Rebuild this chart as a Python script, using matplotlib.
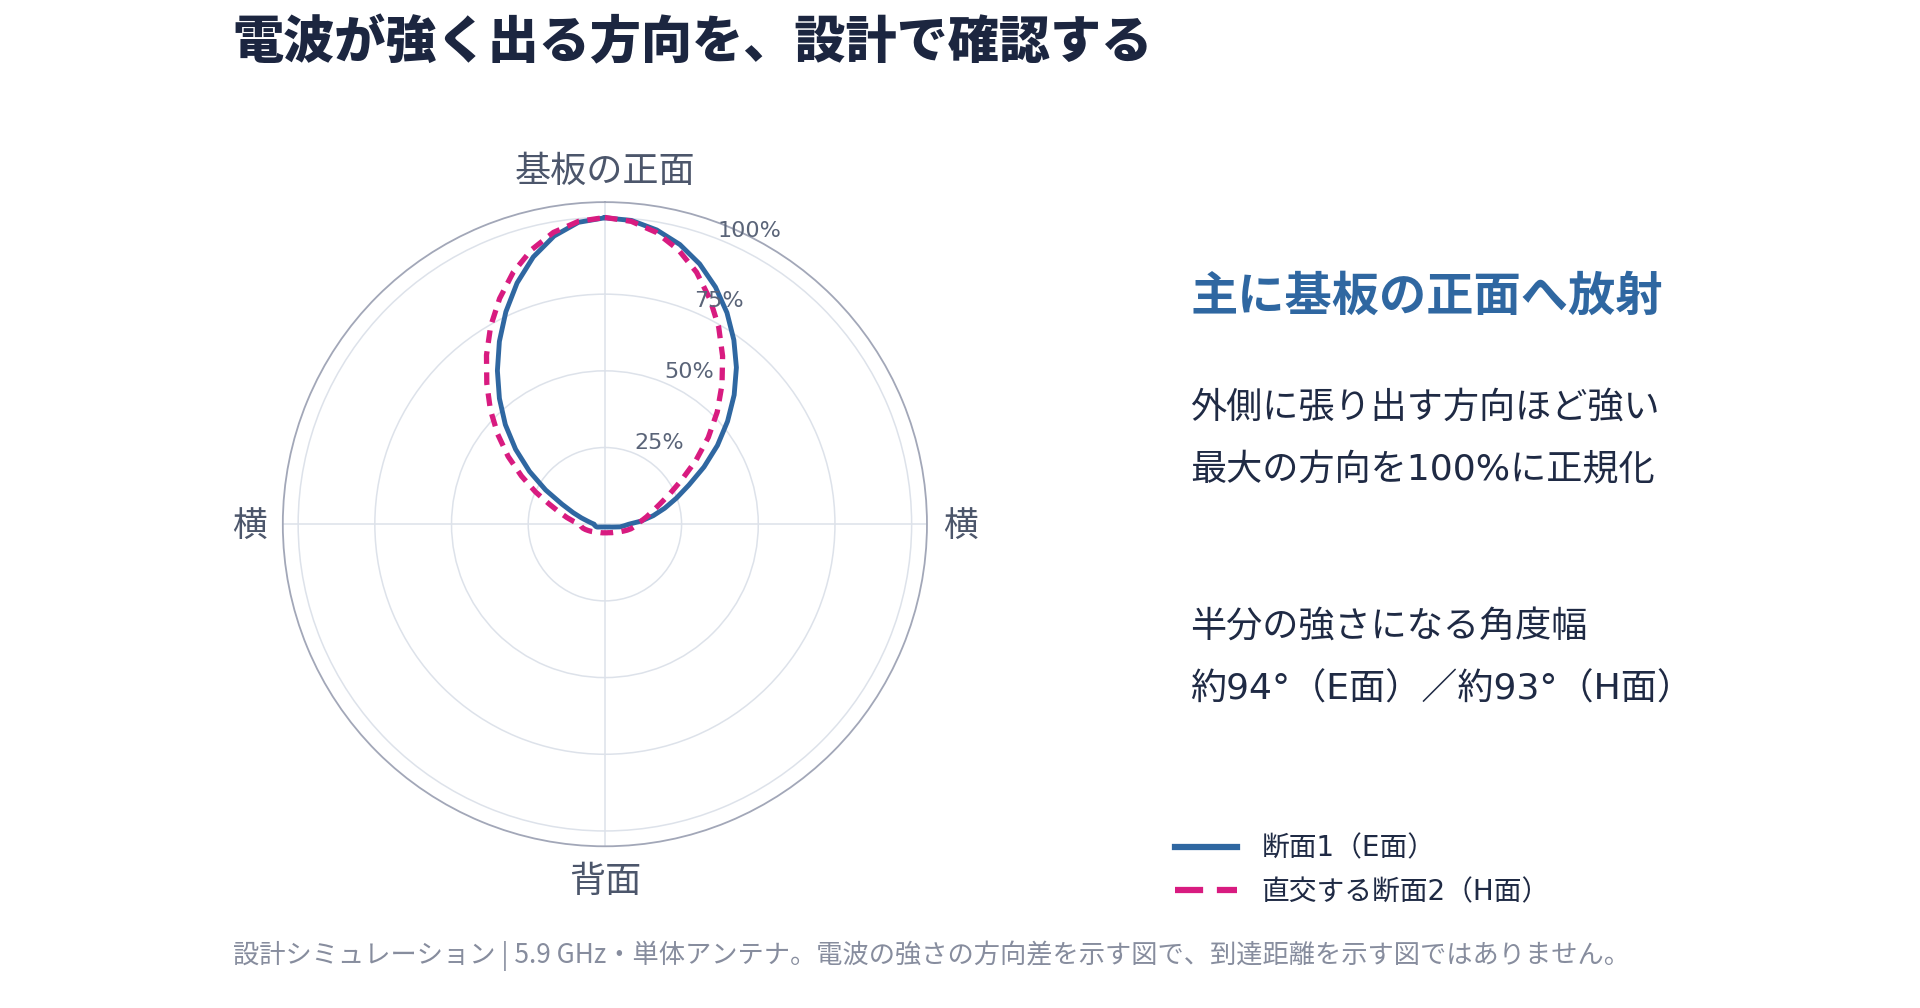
import numpy as np
import matplotlib
matplotlib.use("Agg")
import matplotlib.pyplot as plt
from matplotlib.lines import Line2D
from matplotlib.font_manager import FontProperties

plt.rcParams['font.family'] = ['Noto Sans CJK JP', 'DejaVu Sans']

# ---------------- data ----------------
angles_deg = list(range(0, 360, 5))  # 0 = front of board, clockwise

e_plane = [99.9, 99.4, 97.4, 94.4, 90.3, 85.3, 79.6, 73.3, 66.7, 59.6,
           52.2, 44.8, 37.3, 30.2, 24.8, 20.2, 16.0, 11.9, 7.8,
           6.2, 5.0, 3.5, 2.7, 2.2, 1.8, 1.6, 1.4, 1.3, 1.2, 1.1, 1.05,
           1.0, 0.95, 0.93, 0.92, 0.9, 0.9, 0.9, 0.92, 0.93, 0.95, 1.0,
           1.05, 1.1, 1.2, 1.3, 1.4, 1.6, 1.8, 2.2, 2.7, 3.0, 3.2, 3.4,
           3.5, 4.4, 5.7, 7.9, 11.0, 15.4, 22.3, 30.0, 38.0, 45.9, 53.5,
           61.1, 68.8, 76.4, 83.7, 90.2, 95.4, 98.8]

h_plane = [100.0, 99.1, 96.6, 92.6, 87.4, 81.0, 74.2, 66.9, 59.4, 51.8,
           44.0, 36.2, 28.9, 23.3, 19.0, 16.0, 13.8, 11.9, 10.2,
           9.6, 8.6, 7.5, 6.5, 5.7, 5.0, 4.5, 4.1, 3.8, 3.6, 3.35, 3.2,
           3.05, 2.95, 2.9, 2.85, 2.8, 2.8, 2.8, 2.85, 2.9, 2.95, 3.05,
           3.15, 3.3, 3.5, 3.7, 4.0, 4.35, 4.8, 5.3, 5.9, 6.6, 7.3, 7.8,
           8.2, 10.2, 12.6, 15.5, 19.4, 25.0, 31.4, 38.5, 45.6, 52.8, 59.9,
           67.3, 74.5, 81.2, 87.4, 92.6, 96.6, 99.1]

series_names = ['断面1（E面）', '直交する断面2（H面）']
radial_ticks = [25, 50, 75, 100]
radial_labels = ['25%', '50%', '75%', '100%']
angle_ticks = [0, 90, 180, 270]
angle_labels = ['基板の正面', '横', '背面', '横']
angle_label_sizes = [26, 25, 26, 25]

title = '電波が強く出る方向を、設計で確認する'
headline = '主に基板の正面へ放射'
body_lines = ['外側に張り出す方向ほど強い', '最大の方向を100%に正規化',
              '半分の強さになる角度幅', '約94°（E面）／約93°（H面）']
footer = '設計シミュレーション | 5.9 GHz・単体アンテナ。電波の強さの方向差を示す図で、到達距離を示す図ではありません。'

# ---------------- styles ----------------
BLUE = '#2f67a1'
MAGENTA = '#d81b80'
NAVY = '#1c2640'
TEXT = '#1f2a44'
AXLBL = '#4c566b'
RLBL = '#5a6478'
GRID = '#dde2ea'
SPINE = '#a2a7b8'
FOOT = '#878d9e'
WIDE = ['DejaVu Sans', 'Noto Sans CJK JP']

fig = plt.figure(figsize=(19.2, 10.08), dpi=100)
fig.patch.set_facecolor('white')

ax = fig.add_axes([0.1473, 0.1604, 0.3355, 0.6391], projection='polar')
ax.set_theta_zero_location('N')
ax.set_theta_direction(-1)
ax.set_rlim(0, 105)

th = np.deg2rad(angles_deg + [angles_deg[0]])
r_e = e_plane + [e_plane[0]]
r_h = h_plane + [h_plane[0]]
ax.plot(th, r_e, color=BLUE, lw=3.5, solid_joinstyle='round', zorder=3)
ax.plot(th, r_h, color=MAGENTA, lw=3.8, linestyle=(0, (2.4, 1.6)), zorder=4)

ax.set_rticks(radial_ticks)
ax.set_yticklabels([])
ax.set_xticks(np.deg2rad(angle_ticks))
ax.set_xticklabels([])
ax.tick_params(length=0)
ax.grid(True, color=GRID, lw=1.1)
ax.spines['polar'].set_color(SPINE)
ax.spines['polar'].set_linewidth(1.3)

for v, lab in zip(radial_ticks, radial_labels):
    ax.annotate(lab, xy=(np.deg2rad(23), v), xytext=(17.5, 8),
                textcoords='offset points', ha='center', va='center',
                fontsize=16, color=RLBL, family='DejaVu Sans', zorder=5)

for a, lab, fs in zip(angle_ticks, angle_labels, angle_label_sizes):
    ax.annotate(lab, xy=(np.deg2rad(a), 115.8), xytext=(0, -2),
                textcoords='offset points', ha='center', va='center',
                fontsize=fs, color=AXLBL, annotation_clip=False)

# ---------------- texts ----------------
fig.text(0.1212, 0.957, title, fontsize=36.8, fontweight='heavy', color=NAVY,
         ha='left', va='center')
fig.text(0.620, 0.706, headline, fontsize=34, fontweight='bold', color=BLUE,
         ha='left', va='center')
for y, line in zip([0.5954, 0.5346, 0.378, 0.316], body_lines):
    fig.text(0.620, y, line, fontsize=26, color=TEXT, ha='left', va='center',
             family=WIDE)

fig.text(0.1212, 0.0522, footer, fontsize=18.9, color=FOOT, ha='left', va='center')

# ---------------- legend ----------------
handles = [Line2D([], [], color=BLUE, lw=4.5),
           Line2D([], [], color=MAGENTA, lw=4.5, linestyle=(0, (4.5, 2.2)))]
fig.legend(handles, series_names, loc='upper left', bbox_to_anchor=(0.6122, 0.172),
           frameon=False, prop=FontProperties(family=WIDE, size=20),
           handlelength=2.2, handletextpad=0.9,
           labelspacing=0.55, borderpad=0, borderaxespad=0, labelcolor=TEXT)

fig.savefig('out.png', dpi=100, facecolor='white')
